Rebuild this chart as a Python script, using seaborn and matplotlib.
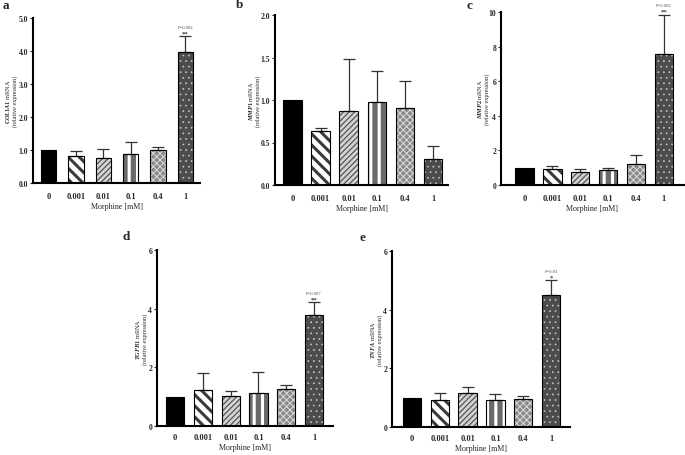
import matplotlib
matplotlib.use("Agg")
import matplotlib.pyplot as plt
import numpy as np
import seaborn as sns
from matplotlib.patches import Rectangle

# Morphine doses on the x axis of every panel
doses = ["0", "0.001", "0.01", "0.1", "0.4", "1"]

# relative expression (mean) and upper error per gene
col1a1_mean = [1.0, 0.82, 0.76, 0.87, 1.01, 3.98]
col1a1_err = [0.0, 0.15, 0.26, 0.36, 0.07, 0.47]
mmp1_mean = [1.0, 0.64, 0.87, 0.98, 0.91, 0.31]
mmp1_err = [0.0, 0.03, 0.61, 0.36, 0.31, 0.15]
mmp2_mean = [1.0, 0.92, 0.77, 0.87, 1.21, 7.55]
mmp2_err = [0.0, 0.15, 0.16, 0.11, 0.55, 2.30]
tgfb1_mean = [1.0, 1.23, 1.02, 1.13, 1.26, 3.79]
tgfb1_err = [0.0, 0.56, 0.19, 0.70, 0.15, 0.43]
tnfa_mean = [1.0, 0.91, 1.15, 0.93, 0.94, 4.51]
tnfa_err = [0.0, 0.25, 0.20, 0.19, 0.12, 0.49]

genes = ["COL1A1", "MMP1", "MMP2", "TGFB1", "TNFA"]
panel_letters = ["a", "b", "c", "d", "e"]
y_ticks = [np.arange(0, 5.01, 1.0), np.arange(0, 2.01, 0.5), np.arange(0, 10.01, 2),
           np.arange(0, 6.01, 2), np.arange(0, 6.01, 2)]
tick_fmt = ["{:.1f}", "{:.1f}", "{:.0f}", "{:.0f}", "{:.0f}"]
p_text = ["P=0.002", None, "P=0.002", "P=0.007", "P=0.03"]
stars = ["**", None, "**", "**", "*"]

means = [col1a1_mean, mmp1_mean, mmp2_mean, tgfb1_mean, tnfa_mean]
errs = [col1a1_err, mmp1_err, mmp2_err, tgfb1_err, tnfa_err]

sns.set_theme(style="ticks")
plt.rcParams["font.family"] = ["Liberation Serif", "DejaVu Serif"]
plt.rcParams["font.weight"] = "bold"
plt.rcParams["mathtext.fontset"] = "custom"
plt.rcParams["mathtext.it"] = "Liberation Serif:italic:bold"
plt.rcParams["mathtext.rm"] = "Liberation Serif:bold"

W, H = 685, 456
fig = plt.figure(figsize=(W / 100, H / 100), dpi=100)

# axes boxes in pixels: left, right, top, bottom, x limits, bar width, ylabel offset, tick pad
boxes = [
    (33, 200, 19, 184, (-0.57, 5.53), 0.56, 22, 6.5),
    (275, 448, 16, 186, (-0.62, 5.53), 0.66, 21, 6.5),
    (501, 684, 13, 186, (-0.84, 5.72), 0.66, 18, 6.5),
    (157, 333, 251, 427, (-0.65, 5.68), 0.66, 16, 5),
    (392, 570, 252, 428, (-0.72, 5.68), 0.66, 16, 5),
]
letter_pos = [(6, 6), (240, 5), (469, 6), (126, 237), (363, 238)]

# bar fill styles: face colour, hatch, hatch colour, hatch linewidth
styles = [
    ("black", None, "black", 1.0),
    ("white", "\\\\\\", "#3a3a3a", 2.2),
    ("#d4d4d4", "//////", "#555555", 0.9),
    ("#6a6a6a", "||", "white", 2.2),
    ("#8a8a8a", "xxxxx", "#dcdcdc", 0.7),
    ("#4c4c4c", "...", "#c4c4c4", 0.5),
]

for i in range(5):
    l, r, t, b, xlim, bw, dx, tpad = boxes[i]
    ax = fig.add_axes([l / W, 1 - b / H, (r - l) / W, (b - t) / H])
    sns.barplot(x=doses, y=means[i], color="black", width=bw, errorbar=None, ax=ax)

    for j, p in enumerate(ax.patches):
        face, hatch, hc, hlw = styles[j]
        p.set_facecolor(face)
        p.set_edgecolor(hc)
        p.set_linewidth(0)
        if hatch:
            p.set_hatch(hatch)
            if hasattr(p, "set_hatch_linewidth"):
                p.set_hatch_linewidth(hlw)
        ax.add_patch(Rectangle(p.get_xy(), p.get_width(), p.get_height(),
                               fill=False, edgecolor="black", linewidth=0.8, zorder=3))

    m = np.array(means[i])
    e = np.array(errs[i])
    idx = np.arange(1, 6)
    ax.errorbar(idx, m[idx], yerr=[np.zeros(5), e[idx]], fmt="none", ecolor="#333333",
                elinewidth=0.9, capsize=4.5, capthick=0.9, zorder=1)

    if p_text[i]:
        top = m[5] + e[5]
        ax.annotate(stars[i], (5, top), xytext=(0, 0.5), textcoords="offset points",
                    ha="center", va="bottom", fontsize=4.8, color="#333333")
        ax.annotate(p_text[i], (5, top), xytext=(0, 5.5), textcoords="offset points",
                    ha="center", va="bottom", fontsize=3.4, color="#555555",
                    fontweight="normal")

    ax.set_xlim(*xlim)
    ax.set_ylim(y_ticks[i][0], y_ticks[i][-1])
    ax.set_yticks(y_ticks[i])
    ax.set_yticklabels([tick_fmt[i].format(v) for v in y_ticks[i]])
    ax.tick_params(axis="y", length=2, width=0.8, pad=1.5, labelsize=5.5)
    ax.tick_params(axis="x", length=0, pad=tpad, labelsize=6)
    for s in ["top", "right"]:
        ax.spines[s].set_visible(False)
    for s in ["left", "bottom"]:
        ax.spines[s].set_linewidth(1.5)
        ax.spines[s].set_color("black")

    ax.set_xlabel("Morphine [mM]", fontsize=5.8, labelpad=1.5)
    ax.set_ylabel("$\\it{" + genes[i] + "}$ mRNA\n(relative expression)", fontsize=4.5,
                  linespacing=1.1)
    ax.yaxis.label.set_verticalalignment("center")
    ax.yaxis.set_label_coords(-dx / (r - l), 0.5)

    lx, ly = letter_pos[i]
    fig.text(lx / W, 1 - ly / H, panel_letters[i], ha="center", va="center",
             fontsize=9.5, fontweight="bold")

fig.savefig("out.png", dpi=100)
